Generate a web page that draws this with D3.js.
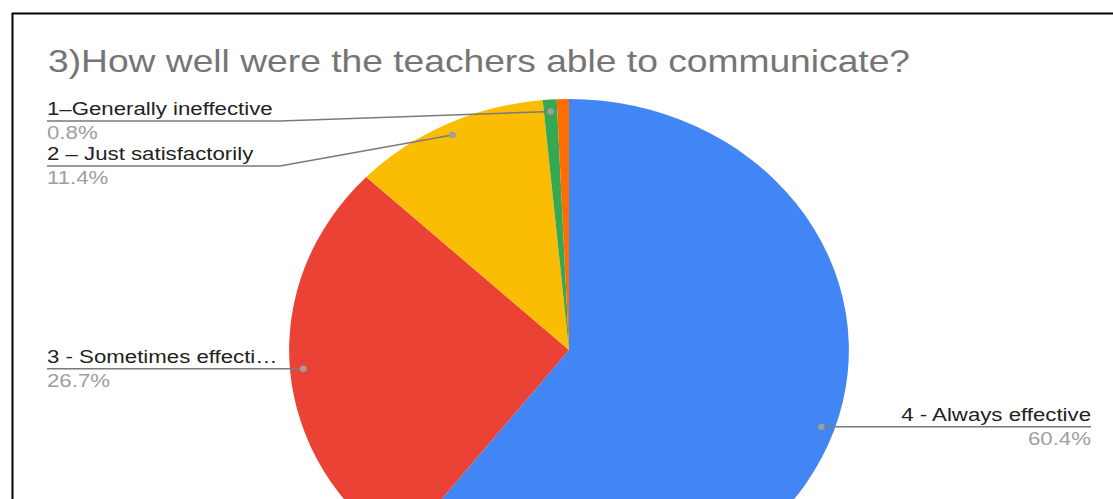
<!DOCTYPE html>
<html>
<head>
<meta charset="utf-8">
<script src="https://cdn.jsdelivr.net/npm/d3@7"></script>
<style>
  html, body { margin: 0; padding: 0; background: #fff; overflow: hidden; }
  svg { display: block; font-family: 'Liberation Sans', Arial, sans-serif; }
</style>
</head>
<body>
<svg id="chart"></svg>
<script>
const TITLE = '3)How well were the teachers able to communicate?';
const categories = ['4 - Always effective', '3 - Sometimes effecti\u2026', '2 \u2013 Just satisfactorily', '1\u2013Generally ineffective', ''];
const values = [60.4, 26.7, 11.4, 0.8, 0.7];
const percentLabels = ['60.4%', '26.7%', '11.4%', '0.8%', ''];
const colors = ['#4285f4', '#ea4335', '#fbbc04', '#34a853', '#ff6d01'];

const width = 1113;
const height = 499;
// the screenshot is stretched sideways a little (text more than the pie)
const sx = 1.115;
const titleSx = 1.2;
const labelSx = 1.27;
const cx = 569;
const cy = 350;
const R = 251;
const rDot = 239;

const svg = d3.select('#chart').attr('width', width).attr('height', height);

// frame
svg.append('rect')
  .attr('x', 12.5).attr('y', 13.5)
  .attr('width', 1300).attr('height', 700)
  .attr('fill', 'none').attr('stroke', '#000').attr('stroke-width', 2);

svg.append('text')
  .attr('transform', `translate(48,72) scale(${titleSx},1)`)
  .attr('fill', '#757575')
  .attr('font-size', '31px')
  .text(TITLE);

const pie = d3.pie().sort(null).value((d) => d);
const arcs = pie(values);
const arc = d3.arc().innerRadius(0).outerRadius(R);

svg.append('g')
  .attr('transform', `translate(${cx},${cy}) scale(${sx},1)`)
  .selectAll('path')
  .data(arcs)
  .join('path')
  .attr('d', arc)
  .attr('fill', (d, i) => colors[i]);

// label placement: side, and where the leader bends (left-top labels only)
const labelLayout = [
  { side: 'right', lineY: null, bendX: null },
  { side: 'left', lineY: null, bendX: null },
  { side: 'left', lineY: 166, bendX: 280 },
  { side: 'left', lineY: 121, bendX: 280 },
  null,
];

const labels = svg.append('g');
arcs.forEach((a, i) => {
  const lay = labelLayout[i];
  if (!lay) return;
  const mid = (a.startAngle + a.endAngle) / 2;
  const dx = cx + sx * rDot * Math.sin(mid);
  const dy = cy - rDot * Math.cos(mid);
  const lineY = lay.lineY == null ? dy : lay.lineY;
  const endX = lay.side === 'left' ? 47 : 1091;
  const pts = [[dx, dy]];
  if (lay.bendX != null) pts.push([lay.bendX, lineY]);
  pts.push([endX, lineY]);

  labels.append('path')
    .attr('d', d3.line()(pts))
    .attr('fill', 'none')
    .attr('stroke', '#7a7a7a')
    .attr('stroke-width', 1.4);
  labels.append('circle')
    .attr('cx', dx).attr('cy', dy).attr('r', 3.3)
    .attr('fill', '#9e9e9e');

  const anchor = lay.side === 'left' ? 'start' : 'end';
  labels.append('text')
    .attr('transform', `translate(${endX},${lineY - 6}) scale(${labelSx},1)`)
    .attr('text-anchor', anchor)
    .attr('fill', '#222')
    .attr('font-size', '17.5px')
    .text(categories[i]);
  labels.append('text')
    .attr('transform', `translate(${endX},${lineY + 18}) scale(${labelSx},1)`)
    .attr('text-anchor', anchor)
    .attr('fill', '#9e9e9e')
    .attr('font-size', '17.5px')
    .text(percentLabels[i]);
});
</script>
</body>
</html>
